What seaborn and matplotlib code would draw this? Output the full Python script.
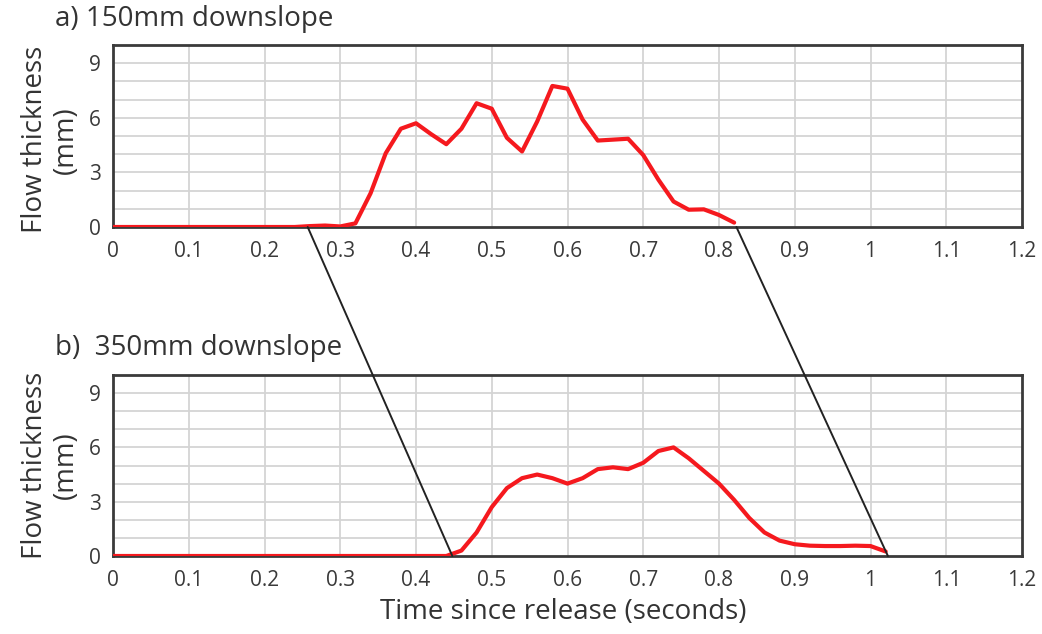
import numpy as np
import pandas as pd
import matplotlib
matplotlib.use("Agg")
import matplotlib.pyplot as plt
import seaborn as sns
from matplotlib.patches import ConnectionPatch

# ---- data ----
time_a = [0.00, 0.02, 0.04, 0.06, 0.08, 0.10, 0.12, 0.14, 0.16, 0.18, 0.20, 0.22,
          0.24, 0.26, 0.28, 0.30, 0.32, 0.34, 0.36, 0.38, 0.40, 0.42, 0.44, 0.46,
          0.48, 0.50, 0.52, 0.54, 0.56, 0.58, 0.60, 0.62, 0.64, 0.66, 0.68, 0.70,
          0.72, 0.74, 0.76, 0.78, 0.80, 0.82]
thick_a = [0.0, 0.0, 0.0, 0.0, 0.0, 0.0, 0.0, 0.0, 0.0, 0.0, 0.0, 0.0,
           0.0, 0.05, 0.08, 0.03, 0.2, 1.85, 4.05, 5.4, 5.7, 5.1, 4.55, 5.4,
           6.8, 6.5, 4.9, 4.15, 5.8, 7.75, 7.6, 5.9, 4.75, 4.8, 4.85, 3.95,
           2.6, 1.4, 0.95, 0.97, 0.66, 0.24]

time_b = [0.00, 0.10, 0.20, 0.30, 0.40, 0.44, 0.46, 0.48, 0.50, 0.52, 0.54, 0.56,
          0.58, 0.60, 0.62, 0.64, 0.66, 0.68, 0.70, 0.72, 0.74, 0.76, 0.78, 0.80,
          0.82, 0.84, 0.86, 0.88, 0.90, 0.92, 0.94, 0.96, 0.98, 1.00, 1.02]
thick_b = [0.0, 0.0, 0.0, 0.0, 0.0, 0.0, 0.3, 1.3, 2.7, 3.75, 4.3, 4.5,
           4.3, 4.0, 4.3, 4.8, 4.9, 4.8, 5.15, 5.8, 6.0, 5.4, 4.7, 4.0,
           3.1, 2.1, 1.3, 0.85, 0.65, 0.57, 0.55, 0.55, 0.57, 0.55, 0.25]

x_ticks = [0, 0.1, 0.2, 0.3, 0.4, 0.5, 0.6, 0.7, 0.8, 0.9, 1.0, 1.1, 1.2]
x_ticklabels = ["0", "0.1", "0.2", "0.3", "0.4", "0.5", "0.6", "0.7", "0.8",
                "0.9", "1", "1.1", "1.2"]
y_ticks = [0, 3, 6, 9]
y_grid = [1, 2, 3, 4, 5, 6, 7, 8, 9]
panel_titles = ["a) 150mm downslope", "b)  350mm downslope"]
y_label = "Flow thickness\n(mm)"
x_label = "Time since release (seconds)"
# connector lines: (time on panel a axis, time on panel b axis)
connectors = [(0.257, 0.448), (0.823, 1.023)]

# ---- style ----
sns.set_style("white")
plt.rcParams["font.family"] = ["Open Sans", "DejaVu Sans"]
TXT = "#333333"

fig = plt.figure(figsize=(10.42, 6.34), dpi=100)
L, R = 113 / 1042, 1022 / 1042
ax1 = fig.add_axes([L, 1 - 227 / 634, R - L, (227 - 45) / 634])
ax2 = fig.add_axes([L, 1 - 556 / 634, R - L, (556 - 375) / 634])

datasets = [(time_a, thick_a), (time_b, thick_b)]
for ax, (t, v) in zip([ax1, ax2], datasets):
    df = pd.DataFrame({"t": t, "v": v})
    sns.lineplot(data=df, x="t", y="v", ax=ax, color="#f5191e", lw=3.0,
                 solid_joinstyle="round", solid_capstyle="round", zorder=3)
    ax.set_xlim(0, 1.2)
    ax.set_ylim(0, 10)
    ax.set_xticks(x_ticks)
    ax.set_xticklabels(x_ticklabels)
    ax.set_yticks(y_ticks)
    for yy in y_grid:
        ax.axhline(yy, color="#d4d4d4", lw=1.3, zorder=1)
    for xx in x_ticks[1:-1]:
        ax.axvline(xx, color="#d4d4d4", lw=1.3, zorder=1)
    ax.tick_params(axis="both", which="both", length=0, labelsize=15,
                   labelcolor="#3a3a3a")
    ax.tick_params(axis="x", pad=10)
    ax.tick_params(axis="y", pad=9)
    for s in ax.spines.values():
        s.set_visible(True)
        s.set_color("#3a3a3a")
        s.set_linewidth(2.0)
    ax.set_xlabel("")
    ax.set_ylabel(y_label, fontsize=20, color=TXT, linespacing=1.15)

ax1.yaxis.set_label_coords(-0.036, 0.48)
ax2.yaxis.set_label_coords(-0.036, 0.5)

fig.text(55 / 1042, 1 - 19 / 634, panel_titles[0], fontsize=20, color=TXT,
         ha="left", va="center")
fig.text(55 / 1042, 1 - 348 / 634, panel_titles[1], fontsize=20, color=TXT,
         ha="left", va="center")
fig.text((378 + 748) / 2 / 1042, 1 - 612 / 634, x_label, fontsize=20, color=TXT,
         ha="center", va="center")

for ta, tb in connectors:
    con = ConnectionPatch(xyA=(ta, 0), coordsA=ax1.transData,
                          xyB=(tb, 0), coordsB=ax2.transData,
                          color="#222222", lw=1.4, zorder=10)
    fig.add_artist(con)

fig.savefig("out.png", dpi=100)
